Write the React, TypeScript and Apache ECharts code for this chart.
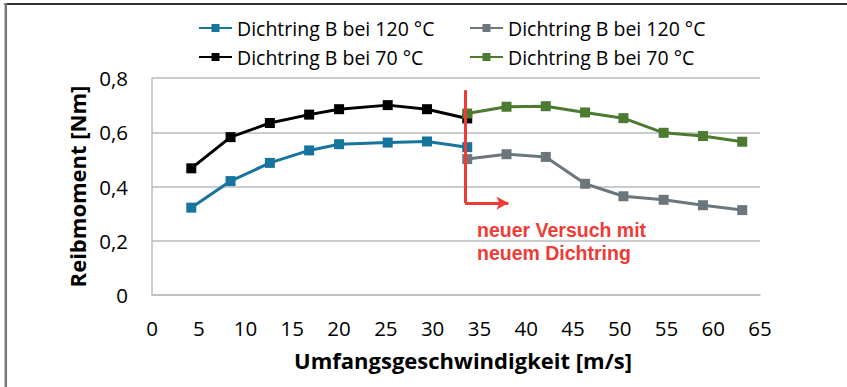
import React, { useEffect, useRef } from "react";
import * as echarts from "echarts";

// ---- data ----
const SPEED_FIRST = [4.2, 8.4, 12.6, 16.8, 20.0, 25.2, 29.4, 33.7];
const BLUE_120 = [0.322, 0.42, 0.487, 0.533, 0.556, 0.562, 0.566, 0.545];
const BLACK_70 = [0.467, 0.582, 0.634, 0.665, 0.685, 0.7, 0.685, 0.651];

const SPEED_SECOND = [33.7, 37.9, 42.1, 46.3, 50.4, 54.7, 58.9, 63.1];
const GRAY_120 = [0.501, 0.519, 0.509, 0.41, 0.364, 0.351, 0.331, 0.313];
const GREEN_70 = [0.669, 0.694, 0.696, 0.673, 0.652, 0.598, 0.586, 0.565];

const SERIES_IDS = ["blue120", "black70", "gray120", "green70"];
const LEGEND_LABELS = [
  "Dichtring B bei 120 °C",
  "Dichtring B bei 70 °C",
  "Dichtring B bei 120 °C",
  "Dichtring B bei 70 °C",
];

// annotation (new test with new seal)
const ANNOT_X = 33.47;
const ANNOT_TOP = 0.755;
const ANNOT_BOTTOM = 0.339;
const ARROW_END_X = 38.1;
const ANNOT_TEXT = "neuer Versuch mit\nneuem Dichtring";

const X_TITLE = "Umfangsgeschwindigkeit [m/s]";
const Y_TITLE = "Reibmoment [Nm]";

const COLORS = ["#16749f", "#000000", "#6b777d", "#4b7a30"];
const RED = "#ef3b36";
const FONT = "'Open Sans', sans-serif";

const pairs = (xs: number[], ys: number[]) => xs.map((x, i) => [x, ys[i]]);

export default function App() {
  const ref = useRef<HTMLDivElement>(null);

  useEffect(() => {
    document.body.style.margin = "0";
    const chart = echarts.init(ref.current!, null, { renderer: "svg" });
    const seriesData = [
      pairs(SPEED_FIRST, BLUE_120),
      pairs(SPEED_FIRST, BLACK_70),
      pairs(SPEED_SECOND, GRAY_120),
      pairs(SPEED_SECOND, GREEN_70),
    ];
    const labelOf = (name: string) => LEGEND_LABELS[SERIES_IDS.indexOf(name)] ?? name;

    const legendCommon = {
      orient: "vertical",
      padding: 0,
      itemWidth: 33,
      itemHeight: 10,
      itemGap: 9,
      formatter: labelOf,
      textStyle: { fontFamily: FONT, fontSize: 19.5, color: "#000", lineHeight: 20 },
      selectedMode: false,
    };

    chart.setOption({
      animation: false,
      backgroundColor: "#fff",
      grid: { left: 152, right: 87, top: 78, bottom: 92, containLabel: false },
      legend: [
        { ...legendCommon, left: 198, top: 18, data: [SERIES_IDS[0], SERIES_IDS[1]] },
        { ...legendCommon, left: 469, top: 18, data: [SERIES_IDS[2], SERIES_IDS[3]] },
      ],
      xAxis: {
        type: "value",
        min: 0,
        max: 65,
        interval: 5,
        name: X_TITLE,
        nameLocation: "middle",
        nameGap: 54,
        nameTextStyle: {
          fontFamily: FONT,
          fontSize: 22,
          fontWeight: "bold",
          color: "#000",
          padding: [0, 0, 0, 14],
        },
        axisLine: { show: true, lineStyle: { color: "#b9bdc0", width: 1.5 } },
        axisTick: { show: false },
        splitLine: { show: false },
        axisLabel: { fontFamily: FONT, fontSize: 20.5, color: "#000", margin: 22 },
      },
      yAxis: {
        type: "value",
        min: 0,
        max: 0.8,
        interval: 0.2,
        name: Y_TITLE,
        nameLocation: "middle",
        nameRotate: 90,
        nameGap: 63,
        nameTextStyle: { fontFamily: FONT, fontSize: 22, fontWeight: "bold", color: "#000" },
        axisLine: { show: true, lineStyle: { color: "#b9bdc0", width: 1.5 } },
        axisTick: { show: false },
        splitLine: { show: true, lineStyle: { color: "#b9bdc0", width: 1.5 } },
        axisLabel: {
          fontFamily: FONT,
          fontSize: 20.5,
          color: "#000",
          margin: 24,
          formatter: (v: number) => (v === 0 ? "0" : v.toFixed(1).replace(".", ",")),
        },
      },
      series: [
        ...SERIES_IDS.map((id, i) => ({
          name: id,
          type: "line",
          data: seriesData[i],
          color: COLORS[i],
          symbol: "rect",
          symbolSize: 10,
          lineStyle: { width: 3, color: COLORS[i] },
          itemStyle: { color: COLORS[i] },
          emphasis: { disabled: true },
          z: 2 + i,
        })),
        {
          name: "annotation",
          type: "line",
          data: [],
          z: 10,
          silent: true,
          markLine: {
            silent: true,
            symbol: ["none", "none"],
            label: { show: false },
            lineStyle: { color: RED, width: 3, type: "solid" },
            emphasis: { disabled: true },
            z: 10,
            data: [
              [{ coord: [ANNOT_X, ANNOT_TOP] }, { coord: [ANNOT_X, ANNOT_BOTTOM] }],
              [
                { coord: [ANNOT_X, ANNOT_BOTTOM] },
                { coord: [ARROW_END_X, ANNOT_BOTTOM], symbol: "arrow", symbolSize: [10, 12] },
              ],
            ],
          },
        },
      ],
      graphic: [
        {
          type: "text",
          left: 477,
          top: 218,
          z: 20,
          style: {
            text: ANNOT_TEXT,
            fill: RED,
            font: "bold 19.5px 'Liberation Sans', Arial, sans-serif",
            lineHeight: 23,
          },
        },
        {
          type: "line",
          shape: { x1: 4.5, y1: 4, x2: 847, y2: 4 },
          style: { stroke: "#333", lineWidth: 2 },
        },
        {
          type: "line",
          shape: { x1: 5.8, y1: 3, x2: 5.8, y2: 387 },
          style: { stroke: "#777", lineWidth: 2.5 },
        },
      ],
    });
    return () => chart.dispose();
  }, []);

  return (
    <div
      ref={ref}
      style={{ position: "absolute", left: 0, top: 0, width: 847, height: 387 }}
    />
  );
}
